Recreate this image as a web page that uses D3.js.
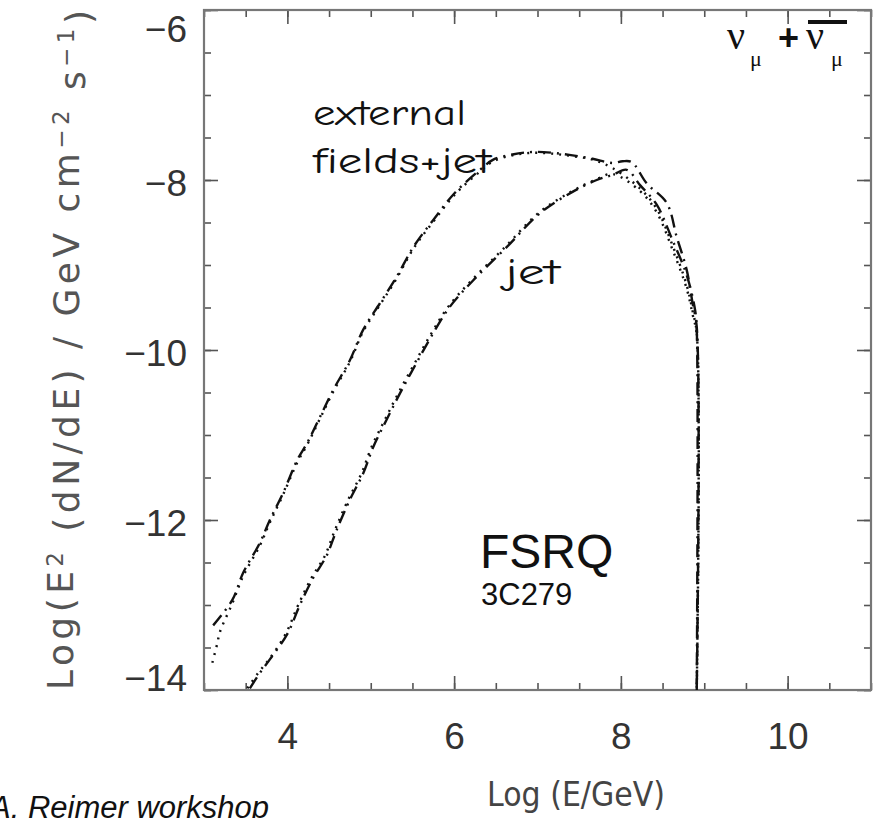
<html>
<head>
<meta charset="utf-8">
<script src="https://d3js.org/d3.v7.min.js"></script>
<style>
  body { margin: 0; background: #fff; }
  svg text { fill: #111; }
</style>
</head>
<body>
<svg id="chart" width="876" height="818"></svg>
<script>

// tick values
var xMajor = [4, 6, 8, 10];
var yMajor = [-6, -8, -10, -12, -14];
var xMinor = d3.range(3, 11.01, 0.5);
var yMinor = d3.range(-14, -5.99, 0.5);

// external fields + jet (dash-dot)
var extLogE = [3.11, 3.34, 3.47, 3.67, 3.79, 3.95, 4.12, 4.24, 4.39, 4.55, 4.75, 4.91, 5.11, 5.31, 5.51, 5.75, 6.01, 6.31, 6.47, 6.70, 6.94, 7.18, 7.42, 7.66, 7.90, 8.02, 8.13, 8.31, 8.55, 8.67, 8.79, 8.86, 8.91, 8.91];
var extFlux = [-13.24, -12.94, -12.62, -12.27, -12.00, -11.68, -11.29, -11.09, -10.79, -10.47, -10.12, -9.76, -9.45, -9.14, -8.79, -8.47, -8.15, -7.88, -7.76, -7.70, -7.67, -7.68, -7.71, -7.75, -7.80, -7.78, -7.79, -8.04, -8.27, -8.67, -9.06, -9.45, -9.73, -14.0];

// external fields + jet (dotted)
var extDotLogE = [3.10, 3.16, 3.19, 3.34, 3.47, 3.67, 3.79, 3.95, 4.12, 4.24, 4.39, 4.55, 4.75, 4.91, 5.11, 5.31, 5.51, 5.75, 6.01, 6.31, 6.47, 6.70, 6.94, 7.18, 7.42, 7.66, 7.90, 8.23, 8.43, 8.62, 8.79, 8.86, 8.91, 8.91];
var extDotFlux = [-13.68, -13.45, -13.32, -12.98, -12.66, -12.30, -12.03, -11.70, -11.32, -11.11, -10.81, -10.49, -10.14, -9.78, -9.47, -9.16, -8.81, -8.49, -8.17, -7.90, -7.78, -7.71, -7.68, -7.69, -7.72, -7.76, -7.86, -8.10, -8.34, -8.77, -9.24, -9.54, -9.80, -14.0];

// jet (dash-dot)
var jetLogE = [3.55, 3.67, 3.79, 4.00, 4.15, 4.31, 4.47, 4.59, 4.75, 4.91, 5.03, 5.19, 5.35, 5.55, 5.75, 5.95, 6.23, 6.63, 7.03, 7.42, 7.71, 7.90, 8.07, 8.23, 8.43, 8.62, 8.79, 8.89, 8.91, 8.91];
var jetFlux = [-13.98, -13.80, -13.64, -13.34, -13.00, -12.68, -12.42, -12.12, -11.76, -11.45, -11.14, -10.82, -10.51, -10.15, -9.80, -9.49, -9.18, -8.79, -8.39, -8.14, -8.00, -7.94, -7.88, -8.06, -8.29, -8.71, -9.12, -9.53, -9.76, -14.0];

// jet (dotted)
var jetDotLogE = [3.52, 3.65, 3.78, 3.98, 4.13, 4.29, 4.45, 4.57, 4.73, 4.89, 5.01, 5.17, 5.33, 5.53, 5.73, 5.93, 6.21, 6.61, 7.01, 7.40, 7.71, 7.90, 8.23, 8.43, 8.62, 8.79, 8.86, 8.91, 8.91];
var jetDotFlux = [-13.98, -13.80, -13.64, -13.34, -13.00, -12.68, -12.42, -12.12, -11.76, -11.45, -11.14, -10.82, -10.51, -10.15, -9.80, -9.49, -9.18, -8.79, -8.39, -8.14, -7.99, -7.93, -8.13, -8.38, -8.82, -9.28, -9.58, -9.82, -14.0];

function draw() {

var svg = d3.select('#chart');

// plot box
var boxL = 204, boxR = 871, boxT = 10, boxB = 690;

var x = d3.scaleLinear().domain([3, 11]).range([boxL, boxR]);
var y = d3.scaleLinear().domain([-6, -14]).range([boxT, boxB]);

var tickFont = "'Liberation Sans', Arial, sans-serif";
var minus = function(d) { return d < 0 ? "\u2212" + Math.abs(d) : "" + d; };

// minor ticks on all four sides
svg.append("g").attr("transform", "translate(" + boxL + ",0)")
	.call(d3.axisLeft(y).tickValues(yMinor).tickSize(-7).tickFormat(""));
svg.append("g").attr("transform", "translate(" + boxR + ",0)")
	.call(d3.axisRight(y).tickValues(yMinor).tickSize(-7).tickFormat(""));
svg.append("g").attr("transform", "translate(0," + boxT + ")")
	.call(d3.axisTop(x).tickValues(xMinor).tickSize(-7).tickFormat(""));
svg.append("g").attr("transform", "translate(0," + boxB + ")")
	.call(d3.axisBottom(x).tickValues(xMinor).tickSize(-7).tickFormat(""));

// major ticks + labels
var yAxis = svg.append("g").attr("transform", "translate(" + boxL + ",0)")
	.call(d3.axisLeft(y).tickValues(yMajor).tickSize(-14).tickPadding(17).tickFormat(minus));
yAxis.selectAll("text")
	.attr("dy", function(d) { return d == -6 ? "0.85em" : (d == -14 ? "0.0em" : "0.42em"); });

svg.append("g").attr("transform", "translate(" + boxR + ",0)")
	.call(d3.axisRight(y).tickValues(yMajor).tickSize(-14).tickFormat(""));
svg.append("g").attr("transform", "translate(0," + boxT + ")")
	.call(d3.axisTop(x).tickValues(xMajor).tickSize(-14).tickFormat(""));
svg.append("g").attr("transform", "translate(0," + boxB + ")")
	.call(d3.axisBottom(x).tickValues(xMajor).tickSize(-14).tickPadding(33).tickFormat(minus));

svg.selectAll(".domain").remove();
svg.selectAll(".tick line").attr("stroke", "#555").attr("stroke-width", 1.6);
svg.selectAll(".tick text")
	.style("font-family", tickFont)
	.style("font-size", "37px")
	.style("fill", "#333");

svg.append("rect")
	.attr("x", boxL).attr("y", boxT)
	.attr("width", boxR - boxL).attr("height", boxB - boxT)
	.attr("fill", "none")
	.attr("stroke", "#777")
	.attr("stroke-width", 2.2);

// curves
var line = d3.line()
	.x(function(d) { return x(d[0]); })
	.y(function(d) { return y(d[1]); })
	.curve(d3.curveCatmullRom.alpha(0.5));

var series = [
	{ e: extLogE, f: extFlux, dash: "13,6,2,6" },
	{ e: extDotLogE, f: extDotFlux, dash: "2,6" },
	{ e: jetLogE, f: jetFlux, dash: "13,6,2,6" },
	{ e: jetDotLogE, f: jetDotFlux, dash: "2,6" }
];

svg.append("g").selectAll("path")
	.data(series)
	.enter()
	.append("path")
		.attr("d", function(s) { return line(d3.zip(s.e, s.f)); })
		.attr("fill", "none")
		.attr("stroke", "#111")
		.attr("stroke-width", 2.4)
		.attr("stroke-dasharray", function(s) { return s.dash; });

// labels inside the plot
var handFont = "'Comic Sans MS', 'Comic Neue', 'DejaVu Sans', sans-serif";
svg.append("text").attr("x", 313).attr("y", 125)
	.attr("textLength", 153).attr("lengthAdjust", "spacingAndGlyphs")
	.style("font-family", handFont).style("font-size", "37px")
	.text("external");
svg.append("text").attr("x", 313).attr("y", 173)
	.attr("textLength", 178).attr("lengthAdjust", "spacingAndGlyphs")
	.style("font-family", handFont).style("font-size", "37px")
	.text("fields+jet");
svg.append("text").attr("x", 505).attr("y", 284)
	.attr("textLength", 55).attr("lengthAdjust", "spacingAndGlyphs")
	.style("font-family", handFont).style("font-size", "37px")
	.text("jet");

svg.append("text").attr("x", 480).attr("y", 568)
	.style("font-family", tickFont).style("font-size", "48px")
	.text("FSRQ");
svg.append("text").attr("x", 481).attr("y", 605)
	.style("font-family", tickFont).style("font-size", "31px")
	.text("3C279");

// nu_mu + anti nu_mu
var serif = "'Liberation Serif', 'Times New Roman', serif";
var nu = svg.append("g");
nu.append("text").attr("x", 727).attr("y", 49)
	.style("font-family", serif).style("font-size", "40px").text("\u03bd");
nu.append("text").attr("x", 750).attr("y", 66)
	.style("font-family", serif).style("font-size", "22px").text("\u03bc");
nu.append("text").attr("x", 778).attr("y", 50)
	.style("font-family", tickFont).style("font-size", "36px").style("font-weight", "bold").text("+");
nu.append("text").attr("x", 806).attr("y", 49)
	.style("font-family", serif).style("font-size", "40px").text("\u03bd");
nu.append("text").attr("x", 831).attr("y", 66)
	.style("font-family", serif).style("font-size", "22px").text("\u03bc");
nu.append("line")
	.attr("x1", 808).attr("x2", 847).attr("y1", 22).attr("y2", 22)
	.attr("stroke", "#111").attr("stroke-width", 4);

// axis titles
var yTitle = svg.append("text")
	.attr("transform", "translate(73," + ((boxT + boxB) / 2) + ") rotate(-90)")
	.attr("text-anchor", "middle")
	.attr("textLength", 680)
	.attr("lengthAdjust", "spacing")
	.style("font-family", "'DejaVu Sans', sans-serif")
	.style("font-size", "36px")
	.style("fill", "#555");
yTitle.append("tspan").text("Log(E");
yTitle.append("tspan").attr("dy", "-0.45em").style("font-size", "23px").text("2");
yTitle.append("tspan").attr("dy", "0.45em").text("  (dN/dE)  /  GeV  cm");
yTitle.append("tspan").attr("dy", "-0.45em").style("font-size", "23px").text("\u22122");
yTitle.append("tspan").attr("dy", "0.45em").text("  s");
yTitle.append("tspan").attr("dy", "-0.45em").style("font-size", "23px").text("\u22121");
yTitle.append("tspan").attr("dy", "0.45em").text(")");

svg.append("text")
	.attr("x", 576).attr("y", 806)
	.attr("text-anchor", "middle")
	.attr("textLength", 178)
	.attr("lengthAdjust", "spacingAndGlyphs")
	.style("font-family", "'DejaVu Sans', sans-serif")
	.style("font-size", "34px")
	.style("fill", "#444")
	.text("Log (E/GeV)");

// cut-off footer credit
svg.append("text")
	.attr("x", -10).attr("y", 818)
	.style("font-family", tickFont)
	.style("font-size", "31px")
	.style("font-style", "italic")
	.text("A. Reimer  workshop");
}

draw();

</script>
</body>
</html>
